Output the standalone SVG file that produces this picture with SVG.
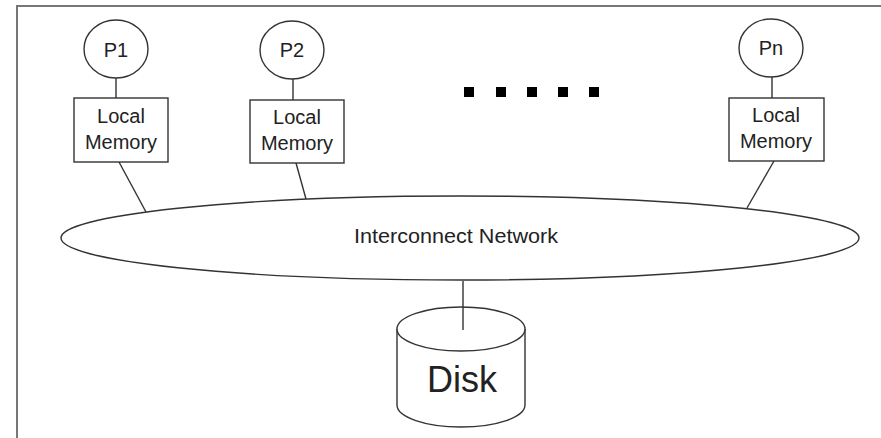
<svg xmlns="http://www.w3.org/2000/svg" width="881" height="438" viewBox="0 0 881 438">
<style>
.shape{fill:#fff;stroke:#333;stroke-width:1.4}
.conn{stroke:#333;stroke-width:1.4;fill:none}
.lbl{font-family:"Liberation Sans",Arial,sans-serif;font-size:20px;fill:#222;text-anchor:middle}
.dot{fill:#000}
</style>
<rect width="881" height="438" fill="#fff"/>
<rect x="17" y="6" width="880" height="450" fill="none" stroke="#777" stroke-width="2"/>
<g id="connectors">
<line class="conn" x1="116" y1="78" x2="116" y2="98"/>
<line class="conn" x1="293" y1="79" x2="293" y2="100"/>
<line class="conn" x1="772" y1="77" x2="772" y2="98"/>
<line class="conn" x1="119" y1="162" x2="146" y2="212"/>
<line class="conn" x1="296" y1="163" x2="306" y2="199"/>
<line class="conn" x1="774" y1="161" x2="747" y2="208"/>
</g>
<g id="network">
<ellipse class="shape" cx="460" cy="238" rx="399" ry="42"/>
<text class="lbl" x="456" y="243" textLength="204" lengthAdjust="spacingAndGlyphs">Interconnect Network</text>
</g>
<g id="p1">
<ellipse class="shape" cx="116" cy="49" rx="32" ry="29"/>
<text class="lbl" x="116" y="57">P1</text>
</g>
<g id="mem1">
<rect class="shape" x="74" y="98" width="94" height="64"/>
<text class="lbl" x="121" y="123">Local</text>
<text class="lbl" x="121" y="149">Memory</text>
</g>
<g id="p2">
<ellipse class="shape" cx="292" cy="50" rx="32" ry="29"/>
<text class="lbl" x="292" y="57">P2</text>
</g>
<g id="mem2">
<rect class="shape" x="250" y="100" width="94" height="63"/>
<text class="lbl" x="297" y="124">Local</text>
<text class="lbl" x="297" y="150">Memory</text>
</g>
<g id="pn">
<ellipse class="shape" cx="771" cy="48" rx="32" ry="29"/>
<text class="lbl" x="771" y="55">Pn</text>
</g>
<g id="memn">
<rect class="shape" x="729" y="98" width="95" height="63"/>
<text class="lbl" x="776" y="122">Local</text>
<text class="lbl" x="776" y="148">Memory</text>
</g>
<g id="dots">
<rect class="dot" x="464" y="87" width="10" height="10"/>
<rect class="dot" x="496" y="87" width="10" height="10"/>
<rect class="dot" x="527" y="87" width="10" height="10"/>
<rect class="dot" x="558" y="87" width="10" height="10"/>
<rect class="dot" x="589" y="87" width="10" height="10"/>
</g>
<g id="disk">
<path class="shape" d="M397,329 L397,405 A64,22 0 0 0 525,405 L525,329"/>
<ellipse class="shape" cx="461" cy="329" rx="64" ry="22"/>
<line class="conn" x1="463" y1="281" x2="463" y2="330"/>
<text class="lbl" x="462" y="392" style="font-size:36px">Disk</text>
</g>
</svg>
